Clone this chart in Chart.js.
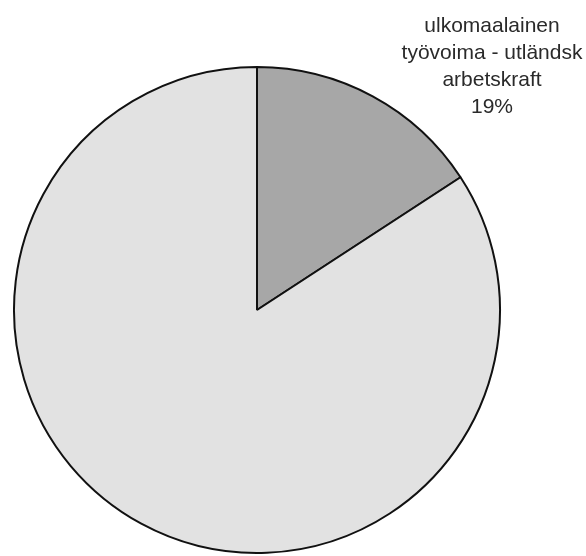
<!DOCTYPE html>
<html>
<head>
<meta charset="utf-8">
<script src="https://cdn.jsdelivr.net/npm/chart.js@4/dist/chart.umd.min.js"></script>
<style>
  html, body { margin: 0; padding: 0; background: #ffffff; }
  #wrap { width: 586px; height: 556px; position: relative; }
</style>
</head>
<body>
<div id="wrap"><canvas id="c" width="586" height="556"></canvas></div>
<script>
// Categories and values (slice shares as drawn in the picture)
const categories = ["ulkomaalainen työvoima - utländsk arbetskraft", "muu työvoima"];
const values = [15.8, 84.2];
// Label text shown next to the small slice
const labelLines = ["ulkomaalainen", "työvoima - utländsk", "arbetskraft", "19%"];
const colors = ["#a7a7a7", "#e2e2e2"];

const labelPlugin = {
  id: "sliceLabel",
  afterDraw(chart) {
    const ctx = chart.ctx;
    ctx.save();
    ctx.fillStyle = "#2a2a2a";
    ctx.font = "21px 'Liberation Sans', Arial, sans-serif";
    ctx.textAlign = "center";
    ctx.textBaseline = "alphabetic";
    const cx = 492, y0 = 32, lh = 27;
    labelLines.forEach((t, i) => ctx.fillText(t, cx, y0 + i * lh));
    ctx.restore();
  }
};

new Chart(document.getElementById("c"), {
  type: "pie",
  data: {
    labels: categories,
    datasets: [{
      data: values,
      backgroundColor: colors,
      borderColor: "#111111",
      borderWidth: 2
    }]
  },
  options: {
    responsive: false,
    animation: false,
    layout: { padding: { left: 13, right: 85, top: 66, bottom: 2 } },
    plugins: { legend: { display: false }, tooltip: { enabled: false } }
  },
  plugins: [labelPlugin]
});
</script>
</body>
</html>
